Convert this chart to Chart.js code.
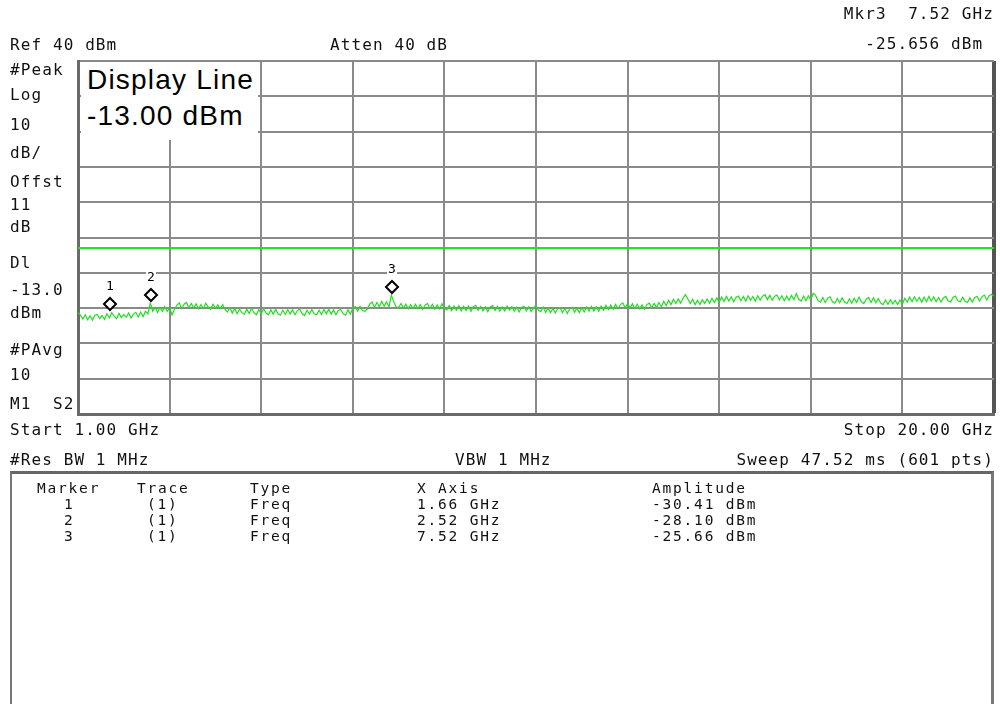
<!DOCTYPE html>
<html>
<head>
<meta charset="UTF-8">
<title>Spectrum</title>
<script src="https://cdn.jsdelivr.net/npm/chart.js"></script>
<style>
  body { margin: 0; background: #fff; }
  #wrap { position: relative; width: 1000px; height: 704px; overflow: hidden; }
  canvas { position: absolute; left: 0; top: 0; }
  .t {
    position: absolute;
    font-family: 'DejaVu Sans Mono', monospace;
    font-size: 16px;
    letter-spacing: 1.1px;
    color: #111;
    white-space: pre;
    line-height: 16px;
  }
  #dl {
    position: absolute; left: 81px; top: 62px; width: 177px; height: 78px;
    background: #fff; white-space: nowrap;
    font-family: 'Liberation Sans', Arial, sans-serif;
    font-size: 28px; letter-spacing: 1.2px; color: #000;
    line-height: 36px; padding-left: 6px; box-sizing: border-box;
  }
  #tbl {
    position: absolute; left: 10px; top: 471px; width: 984px; height: 260px;
    border: 2px solid #777; border-top: 3px solid #666; border-right-width: 3px;
    box-sizing: border-box;
  }
  .c { font-size: 14.5px; letter-spacing: 1.8px; }
</style>
</head>
<body>
<div id="wrap">
  <canvas id="c" width="1000" height="704"></canvas>
  <div id="dl">Display Line<br>-13.00 dBm</div>
  <div id="tbl"></div>
</div>
<script>
// sweep settings
const startGHz = 1.0;
const stopGHz = 20.0;
const stepGHz = 0.05;
const refLevel = 40;
const bottomLevel = -60;
const displayLine = -13;

// grid positions (10 divisions each)
const xGrid = [1.0, 2.9, 4.8, 6.7, 8.6, 10.5, 12.4, 14.3, 16.2, 18.1, 20.0];
const yGrid = [-60, -50, -40, -30, -20, -10, 0, 10, 20, 30, 40];

// trace in dBm, every 50 MHz (one row per GHz)
const traceLevel = [
  -31.2, -32.0, -33.1, -31.9, -33.3, -32.2, -33.4, -32.0, -31.8, -33.0, -32.1, -33.2, -31.6, -32.8, -31.3, -32.3, -33.0, -31.5, -32.7, -31.8,
  -32.6, -31.4, -32.8, -31.7, -31.2, -32.5, -31.1, -32.4, -30.9, -31.6, -28.6, -30.9, -29.8, -31.2, -29.9, -31.0, -29.6, -30.9, -30.0, -31.9,
  -30.4, -29.2, -28.5, -30.1, -28.9, -28.4, -29.9, -28.7, -30.0, -28.8, -30.2, -29.0, -30.1, -28.6, -29.7, -30.3, -28.9, -30.0, -29.1, -30.2,
  -29.0, -30.4, -31.1, -29.9, -31.4, -30.1, -31.6, -30.3, -31.3, -31.8, -30.3, -31.5, -30.1, -31.3, -31.9, -30.4, -31.6, -30.2, -31.4, -31.9,
  -30.5, -31.7, -30.3, -31.6, -32.0, -30.6, -31.8, -30.4, -31.7, -30.5, -31.9, -30.7, -30.3, -31.6, -32.1, -30.6, -31.7, -30.4, -31.6, -31.9,
  -30.6, -31.8, -30.4, -31.6, -30.3, -31.7, -30.5, -31.9, -30.7, -30.4, -31.6, -32.0, -30.5, -31.7, -30.0, -29.6, -30.9, -29.5, -30.7, -30.9,
  -30.3, -28.9, -28.3, -29.8, -28.4, -29.6, -28.1, -29.4, -28.2, -29.7, -26.3, -28.3, -29.6, -29.9, -28.7, -30.0, -28.9, -30.2, -29.0, -30.1,
  -28.9, -30.2, -29.0, -30.4, -29.1, -28.7, -30.1, -28.9, -30.3, -29.1, -30.2, -28.8, -30.0, -30.5, -29.3, -30.7, -29.4, -30.6, -29.3, -30.8,
  -29.5, -30.7, -29.4, -30.9, -29.6, -29.2, -30.6, -29.5, -30.8, -29.6, -31.0, -29.7, -29.3, -30.7, -29.5, -30.9, -29.7, -30.8, -29.4, -30.6,
  -29.6, -30.9, -29.7, -31.1, -29.8, -29.5, -30.8, -29.6, -31.0, -29.9, -29.3, -30.6, -31.0, -29.7, -31.2, -30.0, -31.3, -30.1, -31.4, -30.2,
  -29.9, -31.3, -30.1, -31.5, -30.2, -29.8, -31.2, -30.0, -31.3, -29.9, -31.1, -29.7, -30.9, -29.5, -30.8, -29.6, -30.9, -29.4, -30.6, -29.2,
  -30.4, -29.1, -30.3, -28.9, -30.2, -29.0, -28.5, -29.9, -28.7, -30.0, -28.8, -30.1, -28.9, -30.2, -29.1, -30.3, -29.0, -28.6, -29.9, -28.7,
  -29.8, -28.4, -29.6, -28.1, -29.3, -27.8, -29.0, -27.5, -28.7, -27.4, -28.6, -27.2, -26.2, -27.4, -28.7, -27.5, -29.0, -27.8, -29.0, -27.6,
  -28.7, -27.4, -28.6, -27.2, -28.4, -27.1, -28.3, -26.9, -28.1, -26.7, -28.0, -26.8, -28.2, -26.9, -26.6, -27.9, -26.7, -28.0, -26.5, -27.8,
  -26.7, -28.0, -26.5, -27.8, -26.6, -26.2, -27.6, -26.4, -27.8, -26.6, -26.3, -27.7, -26.5, -27.9, -26.6, -27.8, -26.4, -27.6, -25.9, -27.5,
  -28.0, -26.6, -27.9, -26.5, -27.7, -25.8, -26.4, -27.9, -28.3, -27.0, -28.4, -27.2, -26.8, -28.2, -28.6, -27.3, -28.5, -27.1, -28.3, -28.7,
  -27.4, -28.6, -27.2, -28.4, -26.9, -28.2, -28.7, -27.5, -27.0, -28.4, -27.1, -28.5, -27.3, -28.6, -29.0, -27.7, -28.9, -27.6, -28.8, -27.8,
  -29.0, -27.7, -28.9, -27.2, -28.3, -26.9, -28.2, -26.8, -28.1, -27.0, -28.3, -26.9, -28.2, -26.7, -28.0, -26.8, -28.2, -27.0, -28.3, -27.1,
  -26.7, -28.0, -28.3, -27.0, -26.6, -27.9, -28.2, -26.9, -28.1, -28.4, -27.1, -28.3, -27.0, -26.7, -28.0, -26.8, -26.3, -27.7, -26.5, -26.1,
  -26.6
];
// frequency of each sweep point
const traceFreq = traceLevel.map((_, i) => startGHz + i * stepGHz);

// marker table
const markerNo = ['1', '2', '3'];
const markerTrace = ['(1)', '(1)', '(1)'];
const markerType = ['Freq', 'Freq', 'Freq'];
const markerFreq = [1.66, 2.52, 7.52];
const markerAmp = [-30.41, -28.10, -25.66];

const gridColor = '#8a8a8a';

const markerPlugin = {
  id: 'markers',
  afterDatasetsDraw(chart) {
    const ctx = chart.ctx;
    const xs = chart.scales.x, ys = chart.scales.y;
    ctx.save();
    markerFreq.forEach((f, i) => {
      const px = Math.round(xs.getPixelForValue(f));
      const py = Math.round(ys.getPixelForValue(markerAmp[i]));
      const cy = py - 6, h = 6;
      ctx.beginPath();
      ctx.moveTo(px, cy - h);
      ctx.lineTo(px + h, cy);
      ctx.lineTo(px, cy + h);
      ctx.lineTo(px - h, cy);
      ctx.closePath();
      ctx.fillStyle = '#fff';
      ctx.fill();
      ctx.lineWidth = 2;
      ctx.strokeStyle = '#000';
      ctx.stroke();
      ctx.font = '13px "DejaVu Sans Mono"';
      ctx.textAlign = 'center';
      ctx.textBaseline = 'middle';
      ctx.fillStyle = '#fff';
      ctx.fillRect(px - 5, cy - 25, 10, 15);
      ctx.fillStyle = '#000';
      ctx.fillText(markerNo[i], px, cy - 17);
    });
    ctx.restore();
  }
};

new Chart(document.getElementById('c'), {
  type: 'line',
  data: {
    datasets: [
      {
        label: 'Trace',
        data: traceFreq.map((f, i) => ({ x: f, y: traceLevel[i] })),
        borderColor: '#1fe01f',
        borderWidth: 1.2,
        pointRadius: 0,
        tension: 0
      },
      {
        label: 'Display Line',
        data: [{ x: startGHz, y: displayLine }, { x: stopGHz, y: displayLine }],
        borderColor: '#22e622',
        borderWidth: 2,
        pointRadius: 0
      }
    ]
  },
  options: {
    responsive: false,
    animation: false,
    layout: { padding: { left: 78, top: 61, right: 6, bottom: 290 } },
    plugins: { legend: { display: false }, tooltip: { enabled: false } },
    scales: {
      x: {
        type: 'linear', min: startGHz, max: stopGHz,
        afterBuildTicks: s => { s.ticks = xGrid.map(v => ({ value: v })); },
        ticks: { display: false },
        grid: {
          drawTicks: false,
          color: c => c.index === xGrid.length - 1 ? '#555' : gridColor,
          lineWidth: c => c.index === xGrid.length - 1 ? 4 : 2
        },
        border: { color: '#6a6a6a', width: 3 }
      },
      y: {
        type: 'linear', min: bottomLevel, max: refLevel,
        afterBuildTicks: s => { s.ticks = yGrid.map(v => ({ value: v })); },
        ticks: { display: false },
        grid: { drawTicks: false, color: gridColor, lineWidth: 2 },
        border: { color: '#6a6a6a', width: 3 }
      }
    }
  },
  plugins: [markerPlugin]
});

// screen annotations
const labels = [
  ['Mkr3  7.52 GHz', null, 6, 994],
  ['-25.656 dBm ', null, 36, 994],
  ['Ref 40 dBm', 10, 37],
  ['Atten 40 dB', 330, 37],
  ['#Peak', 10, 62],
  ['Log', 10, 87],
  ['10', 10, 117],
  ['dB/', 10, 145],
  ['Offst', 10, 174],
  ['11', 10, 197],
  ['dB', 10, 219],
  ['Dl', 10, 255],
  ['-13.0', 10, 282],
  ['dBm', 10, 305],
  ['#PAvg', 10, 342],
  ['10', 10, 367],
  ['M1  S2', 10, 396],
  ['Start 1.00 GHz', 10, 422],
  ['Stop 20.00 GHz', null, 422, 994],
  ['#Res BW 1 MHz', 10, 452],
  ['VBW 1 MHz', 455, 452],
  ['Sweep 47.52 ms (601 pts)', null, 452, 994]
];
const wrap = document.getElementById('wrap');
labels.forEach(([txt, left, top, right]) => {
  const d = document.createElement('div');
  d.className = 't';
  d.textContent = txt;
  d.style.top = top + 'px';
  if (left !== null) d.style.left = left + 'px';
  else d.style.right = (1000 - right) + 'px';
  wrap.appendChild(d);
});

// marker table text
const colX = [37, 137, 250, 417, 652];
const header = ['Marker', 'Trace', 'Type', 'X Axis', 'Amplitude'];
function cell(txt, x, y) {
  const d = document.createElement('div');
  d.className = 't c';
  d.textContent = txt;
  d.style.left = x + 'px';
  d.style.top = y + 'px';
  wrap.appendChild(d);
}
header.forEach((h, j) => cell(h, colX[j], 480));
markerNo.forEach((m, i) => {
  const y = 496 + i * 16;
  cell(m, 64, y);
  cell(markerTrace[i], 147, y);
  cell(markerType[i], 250, y);
  cell(markerFreq[i].toFixed(2) + ' GHz', 417, y);
  cell(markerAmp[i].toFixed(2) + ' dBm', 652, y);
});
</script>
</body>
</html>
